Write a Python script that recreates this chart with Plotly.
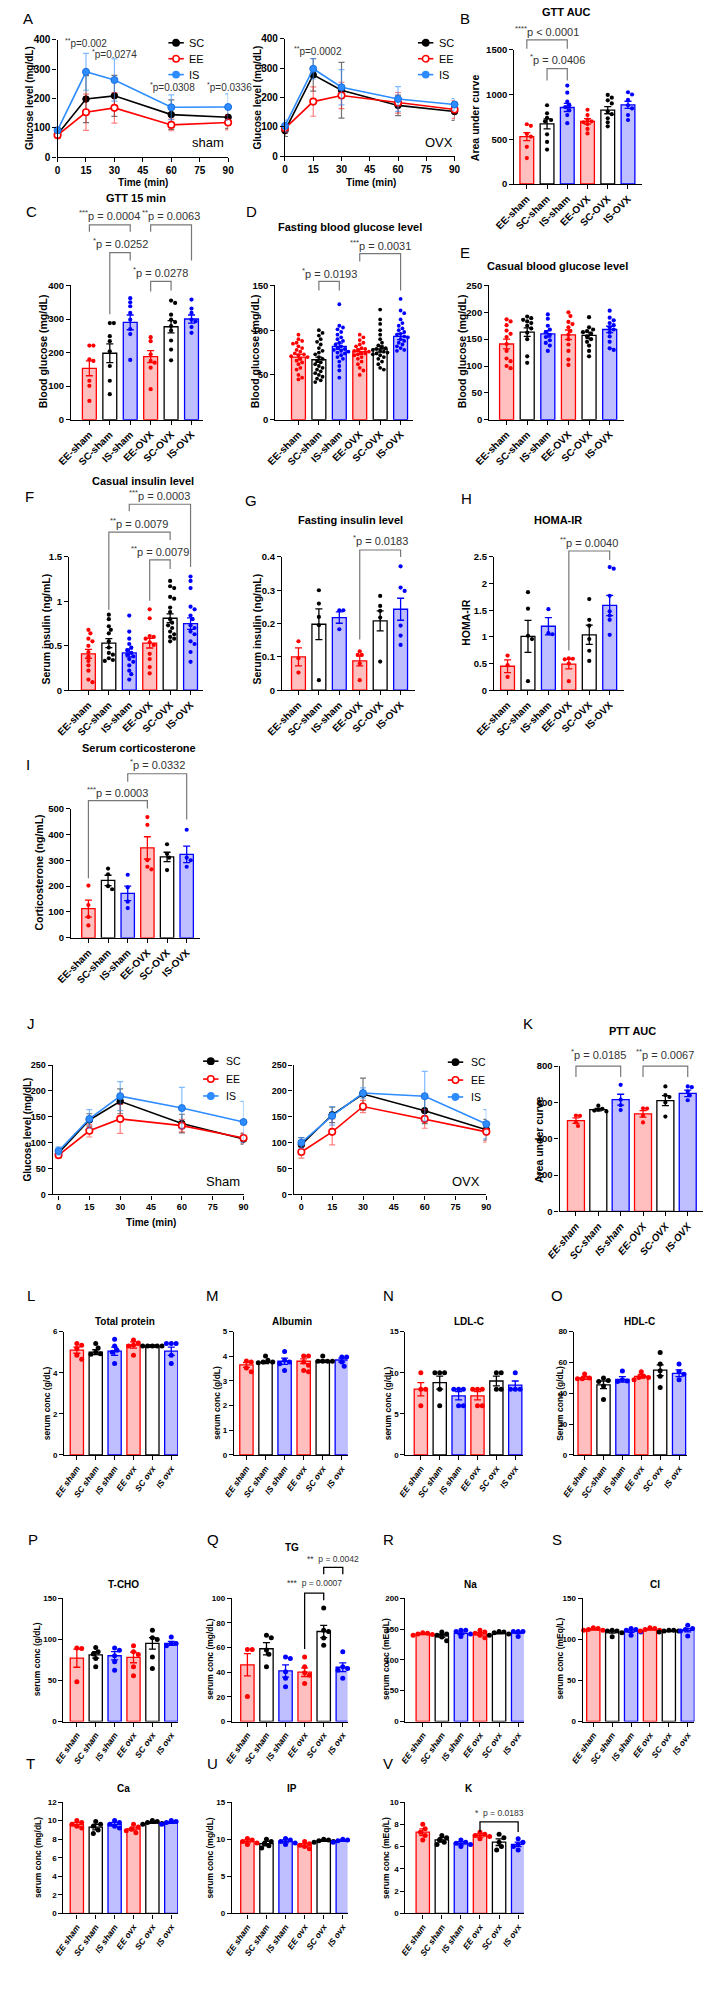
import plotly.graph_objects as go

W, H = 713, 1998
FONT = "Liberation Sans, Arial, Helvetica, sans-serif"

# ------------------------------------------------------------------ DATA
GROUPS = ["EE-sham", "SC-sham", "IS-sham", "EE-OVX", "SC-OVX", "IS-OVX"]
SERUM_CATS = ["EE sham", "SC sham", "IS sham", "EE ovx", "SC ovx", "IS ovx"]
HDL_CATS = ["EE sham", "SC-sham", "IS sham", "EE ovx", "SC ovx", "IS ovx"]
GROUP_COLORS = ["EE", "SC", "IS", "EE", "SC", "IS"]
TIMES = [0, 15, 30, 60, 90]

# A: GTT (mean, SD)
gtt_sham_sc = [78, 198, 209, 145, 136]
gtt_sham_sc_sd = [10, 80, 70, 50, 38]
gtt_sham_ee = [75, 153, 168, 110, 118]
gtt_sham_ee_sd = [12, 62, 52, 20, 25]
gtt_sham_is = [92, 291, 263, 170, 171]
gtt_sham_is_sd = [10, 63, 72, 42, 45]
gtt_ovx_sc = [87, 277, 225, 173, 152]
gtt_ovx_sc_sd = [20, 55, 95, 35, 30]
gtt_ovx_ee = [95, 186, 207, 182, 159]
gtt_ovx_ee_sd = [15, 50, 45, 35, 30]
gtt_ovx_is = [103, 298, 235, 195, 176]
gtt_ovx_is_sd = [20, 35, 60, 42, 20]

# B: GTT AUC
gtt_auc_mean = [530, 672, 855, 700, 825, 885]
gtt_auc_sem = [45, 55, 45, 30, 40, 40]
gtt_auc_dots = [[668, 650, 560, 530, 415, 290],
                [880, 790, 740, 715, 700, 555, 470, 385],
                [1100, 1020, 920, 880, 860, 825, 770, 680],
                [830, 770, 720, 700, 690, 670, 615, 565],
                [995, 965, 935, 900, 810, 780, 735, 690, 645],
                [1025, 1000, 940, 880, 845, 770, 715]]

# C: GTT 15 min
gtt15_mean = [153, 198, 290, 188, 277, 300]
gtt15_sem = [22, 28, 22, 18, 18, 12]
gtt15_dots = [[221, 221, 180, 175, 116, 101, 56],
              [288, 288, 249, 234, 204, 160, 116, 76],
              [362, 350, 338, 318, 298, 270, 255, 178],
              [246, 234, 195, 175, 170, 155, 91],
              [355, 348, 313, 298, 291, 279, 266, 236, 209, 177],
              [358, 331, 318, 298, 293, 276, 259]]

# D: fasting blood glucose
fbg_mean = [70, 67, 82, 76, 79, 93]
fbg_sem = [3, 3, 3.5, 3, 3.5, 3.5]
fbg_dots = [[95, 90, 88, 86, 85, 82, 80, 78, 76, 74, 73, 72, 71, 70, 68, 66, 64, 62, 58, 56, 50, 47, 45],
            [100, 97, 94, 90, 87, 84, 80, 77, 75, 73, 70, 68, 66, 64, 62, 60, 58, 56, 54, 52, 50, 48, 46, 44, 42],
            [129, 105, 103, 101, 98, 95, 92, 90, 88, 86, 84, 82, 80, 79, 78, 77, 76, 75, 74, 72, 70, 68, 65, 60, 55, 47],
            [95, 92, 89, 86, 84, 82, 80, 79, 78, 77, 76, 75, 74, 73, 72, 70, 68, 65, 62, 58, 55, 50],
            [123, 112, 107, 100, 95, 90, 86, 83, 81, 80, 79, 78, 77, 76, 75, 74, 73, 72, 70, 68, 65, 62, 58, 56],
            [135, 122, 119, 112, 108, 105, 102, 100, 98, 96, 95, 93, 92, 90, 88, 86, 84, 82, 80, 78, 77]]

# E: casual blood glucose
cbg_mean = [141, 163, 160, 158, 157, 168]
cbg_sem = [9, 8, 6, 9, 6, 6]
cbg_dots = [[187, 183, 176, 166, 160, 154, 141, 128, 114, 109, 100, 96],
            [192, 189, 186, 183, 180, 175, 170, 162, 150, 118, 106],
            [196, 188, 175, 168, 163, 158, 154, 148, 143, 138, 128],
            [200, 193, 182, 178, 172, 165, 158, 150, 140, 128, 112, 102],
            [191, 172, 168, 165, 163, 160, 155, 150, 145, 138, 128, 118],
            [203, 190, 185, 180, 176, 172, 168, 163, 155, 145, 133, 130]]

# F: casual insulin
cins_mean = [0.41, 0.53, 0.42, 0.53, 0.81, 0.75]
cins_sem = [0.05, 0.05, 0.045, 0.055, 0.05, 0.065]
cins_dots = [[0.68, 0.64, 0.58, 0.55, 0.50, 0.43, 0.38, 0.33, 0.28, 0.22, 0.12, 0.09],
             [0.85, 0.80, 0.72, 0.68, 0.64, 0.55, 0.48, 0.42, 0.40, 0.36, 0.34, 0.33],
             [0.84, 0.66, 0.58, 0.52, 0.48, 0.45, 0.42, 0.40, 0.38, 0.35, 0.32, 0.28, 0.22, 0.18, 0.12],
             [0.91, 0.81, 0.61, 0.60, 0.58, 0.54, 0.51, 0.41, 0.35, 0.26, 0.19],
             [1.23, 1.17, 1.15, 1.05, 1.03, 0.93, 0.88, 0.80, 0.76, 0.73, 0.70, 0.66, 0.63, 0.60, 0.58, 0.55],
             [1.28, 1.23, 1.15, 0.94, 0.91, 0.84, 0.80, 0.73, 0.70, 0.66, 0.63, 0.55, 0.52, 0.43, 0.32]]

# G: fasting insulin
fins_mean = [0.10, 0.198, 0.218, 0.088, 0.208, 0.243]
fins_sem = [0.027, 0.046, 0.017, 0.015, 0.03, 0.033]
fins_dots = [[0.147, 0.096, 0.053],
             [0.30, 0.26, 0.22, 0.195, 0.03],
             [0.24, 0.24, 0.183],
             [0.117, 0.106, 0.106, 0.08, 0.03],
             [0.283, 0.253, 0.238, 0.218, 0.086],
             [0.372, 0.308, 0.298, 0.194, 0.164, 0.136]]

# H: HOMA-IR
homa_mean = [0.45, 1.01, 1.20, 0.49, 1.04, 1.59]
homa_sem = [0.12, 0.30, 0.16, 0.09, 0.18, 0.19]
homa_dots = [[0.65, 0.47, 0.25],
             [1.84, 1.53, 1.02, 0.96, 0.17],
             [1.52, 1.07, 1.05],
             [0.60, 0.59, 0.58, 0.50, 0.17],
             [1.71, 1.32, 1.21, 0.96, 0.74, 0.55],
             [2.31, 2.28, 1.77, 1.48, 1.40, 1.32, 1.04]]

# I: serum corticosterone
cort_mean = [113, 222, 172, 348, 313, 323]
cort_sem = [33, 20, 28, 43, 18, 32]
cort_dots = [[202, 127, 81, 48],
             [268, 246, 200, 188],
             [244, 195, 140, 115],
             [467, 437, 300, 275, 265],
             [362, 325, 310, 262],
             [418, 310, 300, 275]]

# J: PTT (mean, SD)
ptt_sham_sc = [80, 144, 180, 137, 107]
ptt_sham_sc_sd = [8, 12, 24, 18, 10]
ptt_sham_ee = [76, 123, 146, 133, 109]
ptt_sham_ee_sd = [6, 12, 28, 12, 10]
ptt_sham_is = [84, 146, 190, 167, 140]
ptt_sham_is_sd = [8, 18, 28, 40, 40]
ptt_ovx_sc = [96, 154, 194, 162, 125]
ptt_ovx_sc_sd = [14, 15, 31, 25, 20]
ptt_ovx_ee = [82, 121, 170, 146, 121]
ptt_ovx_ee_sd = [12, 25, 12, 18, 20]
ptt_ovx_is = [100, 152, 196, 190, 136]
ptt_ovx_is_sd = [10, 18, 10, 48, 28]

# K: PTT AUC
ptt_auc_mean = [500, 560, 615, 537, 610, 650]
ptt_auc_sem = [15, 7, 30, 18, 28, 18]
ptt_auc_dots = [[528, 526, 490, 470],
                [582, 565, 560, 555, 550],
                [697, 615, 585, 558],
                [568, 566, 528, 490],
                [688, 640, 630, 600, 522],
                [688, 684, 660, 640, 612]]

# L-V: serum chemistry
tp_mean = [5.1, 5.0, 5.05, 5.35, 5.3, 5.05]
tp_sem = [0.15, 0.12, 0.2, 0.15, 0.05, 0.2]
tp_dots = [[5.42, 5.34, 5.18, 4.85, 4.66], [5.42, 5.2, 5.0, 4.92, 4.9], [5.63, 5.3, 5.1, 5.0, 4.45],
           [5.6, 5.45, 5.35, 5.3, 4.85], [5.3, 5.3, 5.3, 5.3, 5.3], [5.42, 5.42, 5.42, 4.85, 4.45]]
alb_mean = [3.65, 3.75, 3.8, 3.8, 3.8, 3.85]
alb_sem = [0.1, 0.05, 0.13, 0.1, 0.04, 0.08]
alb_dots = [[3.81, 3.77, 3.53, 3.37], [4.01, 3.84, 3.77, 3.77, 3.74], [4.2, 3.84, 3.77, 3.7, 3.43],
            [4.01, 4.01, 3.77, 3.64, 3.43, 3.37], [4.01, 3.8, 3.8, 3.8, 3.8], [3.97, 3.97, 3.77, 3.6]]
ldl_mean = [8.0, 8.8, 7.2, 7.2, 9.0, 8.5]
ldl_sem = [0.8, 0.8, 0.5, 0.5, 0.6, 0.5]
ldl_dots = [[10, 8, 8, 6], [10, 10, 10, 8, 6], [8, 8, 8, 6, 6], [8, 8, 8, 6, 6], [10, 10, 8, 8], [10, 8, 8, 8]]
hdl_mean = [50, 45.5, 49, 51, 55, 53]
hdl_sem = [1, 2.5, 1.8, 1.2, 3.5, 2.2]
hdl_dots = [[52.5, 50, 49.5, 49.5], [50, 48.3, 47.7, 44.8, 36], [54.4, 48.8, 48, 47.7],
            [54, 51, 50.3, 50.3, 48.8], [66.5, 59, 54.6, 51, 43.8], [59, 54, 52.4, 48.8]]
tcho_mean = [77, 81, 80, 78, 95, 95]
tcho_sem = [11, 4, 5, 6.5, 7, 2.5]
tcho_dots = [[89.5, 88.7, 48.4], [90, 85, 82, 76.6, 66.5], [89.5, 86.7, 80, 72.6, 62.5],
             [92, 84.7, 81.5, 66.5, 55.6], [110.9, 102, 99.6, 78.6, 64.5], [102.8, 95, 95, 92]]
tg_mean = [46, 59, 41, 40, 73, 44]
tg_sem = [9, 5, 5, 3.5, 5, 3.5]
tg_dots = [[58.3, 58.3, 20.2], [69.9, 68, 58, 54.6, 44.4], [52.4, 51, 40.3, 35, 28.2],
           [52.4, 44.4, 39.5, 37.6, 30.9], [92, 74, 73, 67.7, 61.8], [56.5, 44.4, 43, 41.6, 35]]
na_mean = [142, 139, 143, 142, 143, 144]
na_sem = [1, 2.5, 2, 2, 1, 1.5]
na_dots = [[144, 143, 142, 141, 140], [145, 142, 140, 137, 131], [148, 148, 146, 142, 138],
           [148, 145, 143, 140, 136], [146, 145, 144, 142, 140], [146, 146, 146, 145, 138]]
cl_mean = [112, 109, 110, 112, 110, 111]
cl_sem = [0.7, 1.5, 1.5, 0.8, 0.5, 2]
cl_dots = [[114, 113, 112, 111, 111], [111, 110, 110, 108, 103], [113, 112, 111, 109, 105],
           [114, 113, 112, 111, 110], [111, 111, 110, 110, 109], [117, 113, 112, 110, 104]]
ca_mean = [9.6, 9.3, 9.6, 9.1, 9.8, 9.8]
ca_sem = [0.2, 0.3, 0.2, 0.2, 0.1, 0.1]
ca_dots = [[10.0, 9.8, 9.6, 9.4, 9.2], [9.9, 9.6, 9.4, 9.0, 8.6], [10.0, 9.8, 9.6, 9.4, 9.2],
           [9.6, 9.3, 9.1, 8.9, 8.7], [10.0, 9.9, 9.8, 9.7, 9.6], [10.0, 9.9, 9.8, 9.7, 9.6]]
ip_mean = [9.7, 9.4, 9.7, 9.2, 9.8, 9.8]
ip_sem = [0.2, 0.3, 0.2, 0.2, 0.1, 0.1]
ip_dots = [[10.1, 9.9, 9.7, 9.5, 9.3], [10.0, 9.7, 9.4, 9.1, 8.8], [10.1, 9.9, 9.7, 9.5, 9.3],
           [9.7, 9.4, 9.2, 9.0, 8.7], [10.0, 9.9, 9.8, 9.7, 9.6], [10.0, 9.9, 9.8, 9.7, 9.6]]
k_mean = [7.3, 6.6, 6.3, 7.0, 6.4, 6.2]
k_sem = [0.3, 0.2, 0.15, 0.15, 0.3, 0.2]
k_dots = [[8.0, 7.6, 7.3, 7.0, 6.6], [7.0, 6.8, 6.6, 6.4, 6.2], [6.6, 6.4, 6.3, 6.2, 6.0],
          [7.3, 7.1, 7.0, 6.9, 6.7], [7.1, 6.8, 6.4, 6.0, 5.7], [6.7, 6.4, 6.2, 6.0, 5.7]]

# ------------------------------------------------------------------ STYLE
FILL = {"EE": "rgba(255,0,0,0.25)", "SC": "#FFFFFF", "IS": "rgba(0,0,255,0.25)"}
EDGE = {"EE": "#FF0000", "SC": "#000000", "IS": "#0000FF"}
DOTC = {"EE": "#FF0000", "SC": "#000000", "IS": "#0000FF"}
LBLUE = "#2D8CFF"

fig = go.Figure()
lay = {}
shapes = []
ann = []
n_ax = [0]


def py(y):
    return 1 - y / H


def new_axes(x0, x1, ytop, ybot):
    n_ax[0] += 1
    k = n_ax[0]
    s = "" if k == 1 else str(k)
    lay["xaxis" + s] = dict(domain=[x0 / W, x1 / W], anchor="y" + s)
    lay["yaxis" + s] = dict(domain=[py(ybot), py(ytop)], anchor="x" + s)
    return "x" + s, "y" + s, "xaxis" + s, "yaxis" + s


def axis_style(size, italic=False):
    return dict(showline=True, linecolor="black", linewidth=1.3, ticks="outside",
                ticklen=4, tickwidth=1.3, tickcolor="black", showgrid=False,
                zeroline=False, fixedrange=True,
                tickfont=dict(family=FONT, size=size, color="black", weight="bold",
                              style="italic" if italic else "normal"))


def text(x, y, s, size, bold=False, italic=False, color="black", xanchor="center",
         angle=0, xref="paper"):
    ann.append(dict(x=x / W if xref == "paper" else x, y=py(y), xref=xref, yref="paper",
                    text=s, showarrow=False, xanchor=xanchor, yanchor="middle",
                    textangle=angle,
                    font=dict(family=FONT, size=size, color=color,
                              weight="bold" if bold else "normal",
                              style="italic" if italic else "normal")))


def swarm(vals, ppu, d):
    placed = []
    offs = [0.0] * len(vals)
    order = sorted(range(len(vals)), key=lambda j: -vals[j])
    cands = [0.0]
    for s in range(1, 14):
        cands += [s * d * 0.5, -s * d * 0.5]
    for j in order:
        y = vals[j] * ppu
        c = cands[-1]
        for c in cands:
            if all((c - a) ** 2 + (y - b) ** 2 >= (d * 0.95) ** 2 for a, b in placed):
                break
        placed.append((c, y))
        offs[j] = c
    return offs


def bar_panel(cats, means, sems, dots, ax_px, c0, step, right, ytop, y0, ymax, dtick,
              tsize=9.5, csize=10, angle=-45, italic=False, bw=0.68, dsize=4.2):
    xr, yr, xa, ya = new_axes(ax_px, right, ytop, y0)
    idx = list(range(len(cats)))
    cols = GROUP_COLORS
    fig.add_trace(go.Bar(x=idx, y=means, width=bw,
                         marker=dict(color=[FILL[c] for c in cols],
                                     line=dict(color=[EDGE[c] for c in cols], width=1.3)),
                         xaxis=xr, yaxis=yr, showlegend=False, hoverinfo="skip"))
    for i in idx:
        fig.add_trace(go.Scatter(x=[i], y=[means[i]], mode="markers",
                                 marker=dict(size=1, opacity=0),
                                 error_y=dict(type="data", array=[sems[i]], color=EDGE[cols[i]],
                                              thickness=1.3, width=3.5),
                                 xaxis=xr, yaxis=yr, showlegend=False, hoverinfo="skip",
                                 cliponaxis=False))
    ppu = (y0 - ytop) / ymax
    for i in idx:
        offs = swarm(dots[i], ppu, dsize)
        fig.add_trace(go.Scatter(x=[i + o / step for o in offs], y=dots[i], mode="markers",
                                 marker=dict(size=dsize, color=DOTC[cols[i]], line=dict(width=0)),
                                 xaxis=xr, yaxis=yr, showlegend=False, hoverinfo="skip",
                                 cliponaxis=False))
    lay[xa].update(axis_style(csize, italic), range=[(ax_px - c0) / step, (right - c0) / step],
                   tickmode="array", tickvals=idx, ticktext=cats, tickangle=angle)
    lay[ya].update(axis_style(tsize), range=[0, ymax], dtick=dtick, tick0=0)
    return xr


def bracket(xr, i1, i2, yh, yl1, yl2, label, ty, color="#777777", width=1.2, size=11, tx=None):
    path = "M {a},{b} L {a},{c} L {d},{c} L {d},{e}".format(a=i1, b=py(yl1), c=py(yh), d=i2, e=py(yl2))
    shapes.append(dict(type="path", path=path, xref=xr, yref="paper",
                       line=dict(color=color, width=width)))
    text((i1 + i2) / 2 if tx is None else tx, ty, label, size, color="#333333", xref=xr)


def line_panel(ax_px, x0, x90, ytop, y0, ymax, dtick, series, tsize=10, msize=6.5):
    xr, yr, xa, ya = new_axes(ax_px, x90, ytop, y0)
    ppm = (x90 - x0) / 90.0
    for vals, sds, kind in series:
        if kind == "SC":
            mk = dict(size=msize, color="black", line=dict(color="black", width=1))
            lc, ec = "black", "rgba(0,0,0,0.55)"
        elif kind == "EE":
            mk = dict(size=msize, color="white", line=dict(color="#FF0000", width=1.6))
            lc, ec = "#FF0000", "rgba(255,0,0,0.5)"
        else:
            mk = dict(size=msize + 0.5, color=LBLUE, line=dict(color="#1A6FE0", width=1))
            lc, ec = LBLUE, "rgba(45,140,255,0.6)"
        fig.add_trace(go.Scatter(x=TIMES, y=vals, mode="lines+markers", marker=mk,
                                 line=dict(color=lc, width=1.6),
                                 error_y=dict(type="data", array=sds, color=ec, thickness=1.2, width=3),
                                 xaxis=xr, yaxis=yr, showlegend=False, hoverinfo="skip",
                                 cliponaxis=False))
    lay[xa].update(axis_style(tsize), range=[-(x0 - ax_px) / ppm, 90], tickmode="array",
                   tickvals=[0, 15, 30, 45, 60, 75, 90])
    lay[ya].update(axis_style(tsize), range=[0, ymax], dtick=dtick, tick0=0)
    return xr


def legend(xm, xt, ys, size=11, msize=3.2):
    items = [("SC", "black", "black"), ("EE", "#FF0000", "white"), ("IS", LBLUE, LBLUE)]
    for y, (lab, col, fill) in zip(ys, items):
        shapes.append(dict(type="line", xref="paper", yref="paper", x0=(xm - 8) / W, x1=(xm + 8) / W,
                           y0=py(y), y1=py(y), line=dict(color=col, width=1.6)))
        shapes.append(dict(type="circle", xref="paper", yref="paper", xsizemode="pixel",
                           ysizemode="pixel", xanchor=xm / W, yanchor=py(y),
                           x0=-msize, x1=msize, y0=-msize, y1=msize,
                           fillcolor=fill, line=dict(color=col, width=1.5)))
        text(xt, y, lab, size, xanchor="left")


# ------------------------------------------------------------------ PANELS
# A
line_panel(39, 39, 216, 34, 152, 400, 100,
           [(gtt_sham_sc, gtt_sham_sc_sd, "SC"), (gtt_sham_ee, gtt_sham_ee_sd, "EE"),
            (gtt_sham_is, gtt_sham_is_sd, "IS")])
line_panel(275, 275, 451, 33, 151, 400, 100,
           [(gtt_ovx_sc, gtt_ovx_sc_sd, "SC"), (gtt_ovx_ee, gtt_ovx_ee_sd, "EE"),
            (gtt_ovx_is, gtt_ovx_is_sd, "IS")])
legend(162, 173, [37, 53, 69])
legend(421, 433, [37, 53, 69])
text(10, 93, "Glucose level (mg/dL)", 10, bold=True, angle=-90)
text(246, 92, "Glucose level (mg/dL)", 10, bold=True, angle=-90)
text(128, 177, "Time (min)", 10, bold=True)
text(364, 177, "Time (min)", 10, bold=True)
text(195, 137, "sham", 13)
text(435, 137, "OVX", 13)
text(45, 37, "<sup>**</sup>p=0.002", 10, color="#333333", xanchor="left")
text(73, 48, "<sup>*</sup>p=0.0274", 10, color="#333333", xanchor="left")
text(133, 81, "<sup>*</sup>p=0.0308", 10, color="#333333", xanchor="left")
text(192, 81, "<sup>*</sup>p=0.0336", 10, color="#333333", xanchor="left")
text(282, 45, "<sup>**</sup>p=0.0002", 10, color="#333333", xanchor="left")

# B
xb = bar_panel(GROUPS, gtt_auc_mean, gtt_auc_sem, gtt_auc_dots, 513, 526, 21, 646, 44, 179, 1500, 500)
bracket(xb, 0, 2, 34, 43, 43, "<sup>****</sup>p < 0.0001", 25)
bracket(xb, 1, 2, 63, 75, 75, "<sup>*</sup>p = 0.0406", 53)
text(567, 6, "GTT AUC", 11, bold=True)
text(473, 112, "Area under curve", 10.5, bold=True, angle=-90)

# C
xc = bar_panel(GROUPS, gtt15_mean, gtt15_sem, gtt15_dots, 53, 72, 21.2, 190, 281, 416, 400, 100)
bracket(xc, 0, 2, 220, 227, 227, "<sup>***</sup>p = 0.0004", 210)
bracket(xc, 3, 5, 220, 227, 256, "<sup>**</sup>p = 0.0063", 210)
bracket(xc, 1, 2, 248, 310, 256, "<sup>*</sup>p = 0.0252", 238)
bracket(xc, 3, 4, 277, 287, 286, "<sup>*</sup>p = 0.0278", 267)
text(120, 193, "GTT 15 min", 11, bold=True)
text(24, 347, "Blood glucose (mg/dL)", 10.5, bold=True, angle=-90)

# D
xd = bar_panel(GROUPS, fbg_mean, fbg_sem, fbg_dots, 265, 289, 21.2, 408, 281, 416, 150, 50, dsize=3.8)
bracket(xd, 1, 2, 277, 286, 286, "<sup>*</sup>p = 0.0193", 268)
bracket(xd, 3, 5, 249, 257, 286, "<sup>***</sup>p = 0.0031", 240)
text(342, 222, "Fasting blood glucose level", 11, bold=True)
text(244, 347, "Blood glucose (mg/dL)", 10.5, bold=True, angle=-90)

# E
bar_panel(GROUPS, cbg_mean, cbg_sem, cbg_dots, 487, 505, 21.4, 627, 281, 416, 250, 50)
text(558, 261, "Casual blood glucose level", 11, bold=True)
text(459, 347, "Blood glucose (mg/dL)", 10.5, bold=True, angle=-90)

# F
xf = bar_panel(GROUPS, cins_mean, cins_sem, cins_dots, 51, 71, 21.2, 190, 554, 688, 1.5, 0.5)
bracket(xf, 2, 5, 501, 508, 564, "<sup>***</sup>p = 0.0003", 492)
bracket(xf, 1, 4, 529, 607, 537, "<sup>**</sup>p = 0.0079", 520)
bracket(xf, 3, 4, 557, 598, 566, "<sup>**</sup>p = 0.0079", 548)
text(128, 478, "Casual insulin level", 11, bold=True)
text(27, 627, "Serum insulin (ng/mL)", 10.5, bold=True, angle=-90)

# G
xg = bar_panel(GROUPS, fins_mean, fins_sem, fins_dots, 272, 289, 21.2, 410, 554, 688, 0.4, 0.1)
bracket(xg, 3, 5, 547, 637, 554, "<sup>*</sup>p = 0.0183", 537)
text(343, 517, "Fasting insulin level", 11, bold=True)
text(245, 627, "Serum insulin (ng/mL)", 10.5, bold=True, angle=-90)

# H
xh = bar_panel(GROUPS, homa_mean, homa_sem, homa_dots, 492, 506, 21.2, 627, 554, 688, 2.5, 0.5)
bracket(xh, 3, 5, 548, 648, 557, "<sup>**</sup>p = 0.0040", 539)
text(558, 517, "HOMA-IR", 11, bold=True)
text(462, 620, "HOMA-IR", 10.5, bold=True, angle=-90)

# I
xi = bar_panel(GROUPS, cort_mean, cort_sem, cort_dots, 53, 71, 20.4, 187, 807, 937, 500, 100)
bracket(xi, 0, 3, 799, 877, 807, "<sup>***</sup>p = 0.0003", 790)
bracket(xi, 2, 5, 772, 780, 818, "<sup>*</sup>p = 0.0332", 762)
text(124, 746, "Serum corticosterone", 11, bold=True)
text(20, 871, "Corticosterone (ng/mL)", 10.5, bold=True, angle=-90)

# J
line_panel(34, 40, 232, 1065, 1195, 250, 50,
           [(ptt_sham_sc, ptt_sham_sc_sd, "SC"), (ptt_sham_ee, ptt_sham_ee_sd, "EE"),
            (ptt_sham_is, ptt_sham_is_sd, "IS")], tsize=9, msize=6.5)
line_panel(284, 292, 484, 1065, 1195, 250, 50,
           [(ptt_ovx_sc, ptt_ovx_sc_sd, "SC"), (ptt_ovx_ee, ptt_ovx_ee_sd, "EE"),
            (ptt_ovx_is, ptt_ovx_is_sd, "IS")], tsize=9, msize=6.5)
legend(198, 212, [1061, 1079, 1096], size=10.5)
legend(452, 466, [1062, 1080, 1097], size=10.5)
text(8, 1130, "Glucose level (mg/dL)", 10, bold=True, angle=-90)
text(136, 1223, "Time (min)", 10, bold=True)
text(211, 1182, "Sham", 13)
text(463, 1182, "OVX", 13)

# K
xk = bar_panel(GROUPS, ptt_auc_mean, ptt_auc_sem, ptt_auc_dots, 560, 577, 23.2, 709, 1066, 1212, 800, 200,
               italic=True, angle=-50, bw=0.76)
bracket(xk, 0, 2, 1066, 1077, 1077, "<sup>*</sup>p = 0.0185", 1054)
bracket(xk, 3, 5, 1066, 1077, 1077, "<sup>**</sup>p = 0.0067", 1054)
text(636, 1031, "PTT AUC", 11, bold=True)
text(538, 1140, "Area under curve", 10.5, bold=True, angle=-90)

# L-O row
SV = dict(tsize=8, csize=8.5, angle=-55, italic=True, bw=0.7, dsize=5)
bar_panel(SERUM_CATS, tp_mean, tp_sem, tp_dots, 46, 59, 19.6, 164, 1333, 1457, 6, 2, **SV)
bar_panel(SERUM_CATS, alb_mean, alb_sem, alb_dots, 222, 235, 19.8, 340, 1333, 1457, 5, 1, **SV)
bar_panel(SERUM_CATS, ldl_mean, ldl_sem, ldl_dots, 400, 416, 19.6, 522, 1333, 1457, 15, 5, **SV)
bar_panel(HDL_CATS, hdl_mean, hdl_sem, hdl_dots, 575, 586, 19.6, 692, 1333, 1457, 80, 20, **SV)
for x, t in [(109, "Total protein"), (282, "Albumin"), (466, "LDL-C"), (643, "HDL-C")]:
    text(x, 1323, t, 10, bold=True)
for x, t in [(28, "serum conc (g/dL)"), (205, "serum conc (g/dL)"), (382, "serum conc (g/dL)"),
             (561, "Serum conc (g/dL)")]:
    text(x, 1405, t, 8.5, bold=True, angle=-90)

# P-S row
bar_panel(SERUM_CATS, tcho_mean, tcho_sem, tcho_dots, 45, 59, 19.6, 164, 1601, 1725, 150, 50, **SV)
xq = bar_panel(SERUM_CATS, tg_mean, tg_sem, tg_dots, 220, 236, 19.8, 340, 1601, 1725, 100, 20, **SV)
bar_panel(SERUM_CATS, na_mean, na_sem, na_dots, 400, 418, 19.8, 523, 1601, 1725, 200, 50, **SV)
bar_panel(SERUM_CATS, cl_mean, cl_sem, cl_dots, 584, 595, 19.6, 700, 1601, 1725, 150, 50, **SV)
bracket(xq, 3, 4, 1596, 1652, 1603, "***  p = 0.0007", 1586, color="black", width=1.3, size=8.5)
bracket(xq, 4, 5, 1570, 1577, 1577, "**  p = 0.0042", 1562, color="black", width=1.3, size=8.5)
for x, y, t in [(107, 1587, "T-CHO"), (282, 1550, "TG"), (468, 1587, "Na"), (659, 1587, "Cl")]:
    text(x, y, t, 10, bold=True)
for x, t in [(18, "serum conc (g/dL)"), (197, "serum conc (mg/dL)"), (380, "serum conc (mEq/L)"),
             (560, "serum conc (mEq/L)")]:
    text(x, 1662, t, 8.5, bold=True, angle=-90)

# T-V row
bar_panel(SERUM_CATS, ca_mean, ca_sem, ca_dots, 45, 59, 19.6, 164, 1806, 1918, 12, 2, **SV)
bar_panel(SERUM_CATS, ip_mean, ip_sem, ip_dots, 220, 236, 19.8, 340, 1806, 1918, 15, 5, **SV)
xv = bar_panel(SERUM_CATS, k_mean, k_sem, k_dots, 400, 418, 19.8, 523, 1806, 1918, 10, 2, **SV)
bracket(xv, 3, 5, 1826, 1836, 1836, "*  p = 0.0183", 1817, color="black", width=1.3, size=8.5)
for x, t in [(107, "Ca"), (282, "IP"), (466, "K")]:
    text(x, 1792, t, 10, bold=True)
for x, t in [(18, "serum conc (mg/dL)"), (197, "serum conc (mg/dL)"), (380, "serum conc (mEq/L)")]:
    text(x, 1862, t, 8.5, bold=True, angle=-90)

# panel letters
for lab, x, y in [("A", 8, 13), ("B", 462, 13), ("C", 12, 207), ("D", 240, 207), ("E", 462, 248),
                  ("F", 10, 493), ("G", 240, 497), ("H", 463, 495), ("I", 8, 763),
                  ("J", 11, 1023), ("K", 527, 1023),
                  ("L", 11, 1297), ("M", 200, 1297), ("N", 382, 1297), ("O", 557, 1297),
                  ("P", 14, 1542), ("Q", 200, 1542), ("R", 382, 1542), ("S", 557, 1542),
                  ("T", 11, 1767), ("U", 200, 1767), ("V", 382, 1767)]:
    text(x, y, lab, 15)

fig.update_layout(width=W, height=H, autosize=False, margin=dict(l=0, r=0, t=0, b=0, pad=0),
                  paper_bgcolor="white", plot_bgcolor="rgba(0,0,0,0)", showlegend=False,
                  font=dict(family=FONT, color="black"), shapes=shapes, annotations=ann, **lay)
fig.write_html("out.html")
